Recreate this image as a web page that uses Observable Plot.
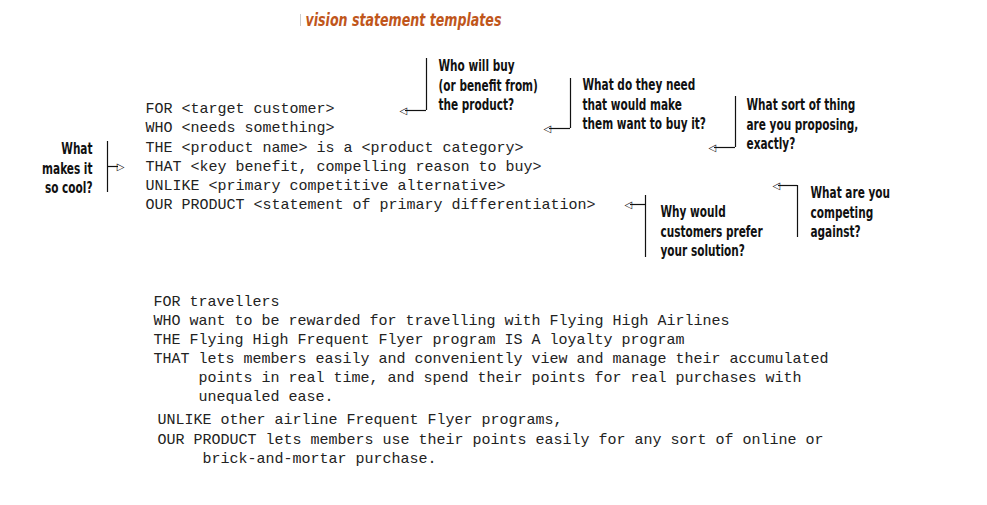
<!DOCTYPE html>
<html>
<head>
<meta charset="utf-8">
<script src="https://cdn.jsdelivr.net/npm/d3@7"></script>
<script src="https://cdn.jsdelivr.net/npm/@observablehq/plot@0.6"></script>
<style>body{margin:0;background:#fff}</style>
</head>
<body>
<div id="chart"></div>
<script>
// template lines
const templateText = [
  "FOR <target customer>",
  "WHO <needs something>",
  "THE <product name> is a <product category>",
  "THAT <key benefit, compelling reason to buy>",
  "UNLIKE <primary competitive alternative>",
  "OUR PRODUCT <statement of primary differentiation>"
]
const templateY = [108, 127, 147, 166, 185, 204]

const exampleText = [
  "FOR travellers",
  "WHO want to be rewarded for travelling with Flying High Airlines",
  "THE Flying High Frequent Flyer program IS A loyalty program",
  "THAT lets members easily and conveniently view and manage their accumulated",
  "points in real time, and spend their points for real purchases with",
  "unequaled ease.",
  "UNLIKE other airline Frequent Flyer programs,",
  "OUR PRODUCT lets members use their points easily for any sort of online or",
  "brick-and-mortar purchase."
]
const exampleX = [153, 153, 153, 153, 198, 198, 157, 157, 202]
const exampleY = [301, 320, 339, 358, 377, 396, 419, 439, 458]

// callouts
const questions = [
  "Who will buy\n(or benefit from)\nthe product?",
  "What do they need\nthat would make\nthem want to buy it?",
  "What sort of thing\nare you proposing,\nexactly?",
  "What\nmakes it\nso cool?",
  "What are you\ncompeting\nagainst?",
  "Why would\ncustomers prefer\nyour solution?"
]
const qX = [438, 582, 746, 92, 810, 660]
const qY = [84, 103, 123, 167, 211, 230]
const barX = [426, 570, 735, 107, 797, 645]
const barY1 = [58, 78, 96, 141, 185, 195]
const barY2 = [110, 128, 147, 192, 237, 257]
const arrowY = [110, 128, 147, 166, 185, 204]
const arrowTip = [399, 543, 708, 124, 772, 624]

const callouts = questions.map((q, i) => ({
  q, x: qX[i], y: qY[i],
  bx: barX[i], y1: barY1[i], y2: barY2[i], ay: arrowY[i], tip: arrowTip[i],
  dir: arrowTip[i] > barX[i] ? 1 : -1
}))
const rightSide = callouts.filter(d => d.dir < 0)
const leftSide = callouts.filter(d => d.dir > 0)

const mono = "'Liberation Mono', 'DejaVu Sans Mono', monospace"
const narrow = "'DejaVu Sans Condensed', 'Liberation Sans', sans-serif"
const qStyle = {x: "x", y: "y", text: "q", lineHeight: 1.3, fontSize: 15,
  fontWeight: "bold", fontFamily: narrow, fill: "#111", className: "callout"}

let chart = Plot.plot({
  width: 987,
  height: 505,
  margin: 0,
  x: {domain: [0, 987], axis: null},
  y: {domain: [505, 0], axis: null},
  marks: [
    Plot.text(["vision statement templates"], {
      x: 305, y: 20, textAnchor: "start", fontSize: 18, fontWeight: "bold",
      fontStyle: "italic", fill: "#c0561b", fontFamily: narrow, className: "callout"
    }),
    Plot.ruleX([300], {y1: 14, y2: 26, stroke: "#ccc"}),
    Plot.text(templateText, {
      x: 145, y: (d, i) => templateY[i], textAnchor: "start",
      fontSize: 15, fontFamily: mono, fill: "#222"
    }),
    Plot.text(exampleText, {
      x: (d, i) => exampleX[i], y: (d, i) => exampleY[i], textAnchor: "start",
      fontSize: 15, fontFamily: mono, fill: "#222"
    }),
    Plot.text(rightSide, {...qStyle, textAnchor: "start"}),
    Plot.text(leftSide, {...qStyle, textAnchor: "end"}),
    Plot.ruleX(callouts, {x: "bx", y1: "y1", y2: "y2", stroke: "#111", strokeWidth: 1.2}),
    Plot.ruleY(callouts, {y: "ay", x1: "bx", x2: d => d.tip - d.dir * 6, stroke: "#111", strokeWidth: 1.2}),
    Plot.text(rightSide, {x: "tip", y: "ay", text: () => "◁", textAnchor: "start",
      fontSize: 10, fontFamily: "DejaVu Sans", fill: "#111"}),
    Plot.text(leftSide, {x: "tip", y: "ay", text: () => "▷", textAnchor: "end",
      fontSize: 10, fontFamily: "DejaVu Sans", fill: "#111"})
  ]
})

// condense the callout lettering like the narrow bold face in the reference
d3.select(chart).selectAll(".callout text").attr("transform", function () {
  return (this.getAttribute("transform") || "") + " scale(0.78,1)"
})

d3.select('#chart').append(() => chart)
</script>
</body>
</html>
